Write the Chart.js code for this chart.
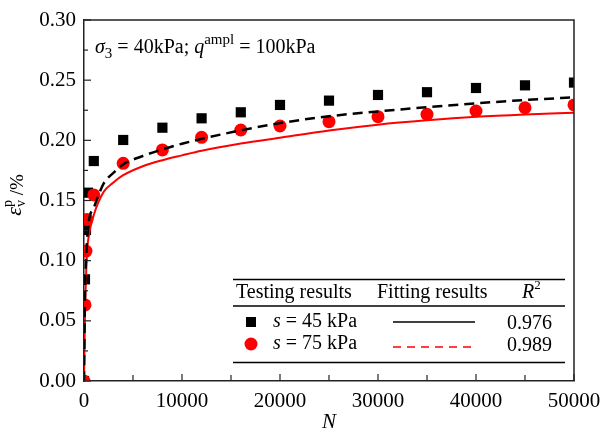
<!DOCTYPE html>
<html>
<head>
<meta charset="utf-8">
<script src="https://cdn.jsdelivr.net/npm/chart.js@4/dist/chart.umd.min.js"></script>
<style>
  html, body { margin: 0; padding: 0; background: #fff; }
  #wrap { width: 601px; height: 436px; }
</style>
</head>
<body>
<div id="wrap"><canvas id="strainChart" width="601" height="436"></canvas></div>
<script>
// Data hasil uji
const nBlack   = [0, 100, 200, 400, 1000, 4000, 8000, 12000, 16000, 20000, 25000, 30000, 35000, 40000, 45000, 50000];
const epsBlack = [0, 0.0845, 0.1255, 0.1565, 0.1828, 0.2003, 0.2105, 0.2183, 0.2233, 0.2294, 0.233, 0.2377, 0.240, 0.2435, 0.2457, 0.248];

const nRed   = [0, 100, 200, 300, 1000, 4000, 8000, 12000, 16000, 20000, 25000, 30000, 35000, 40000, 45000, 50000];
const epsRed = [0, 0.0632, 0.108, 0.1343, 0.1546, 0.1809, 0.192, 0.2025, 0.2086, 0.2119, 0.2155, 0.2197, 0.2216, 0.2244, 0.2271, 0.2294];

// Kurva fitting
const nFit     = [0, 100, 300, 500, 1000, 2000, 3000, 4000, 6000, 8000, 10000, 12000, 16000, 20000, 25000, 30000, 35000, 40000, 45000, 50000];
const fitBlack = [0, 0.07, 0.115, 0.133, 0.144, 0.164, 0.173, 0.180, 0.187, 0.1925, 0.1972, 0.2012, 0.2083, 0.2143, 0.2200, 0.2240, 0.2275, 0.2307, 0.2335, 0.2357];
const fitRed   = [0, 0.055, 0.105, 0.121, 0.138, 0.157, 0.165, 0.171, 0.1785, 0.1835, 0.1875, 0.1913, 0.1973, 0.2022, 0.2082, 0.2130, 0.2166, 0.2195, 0.2215, 0.223];

// Sumbu
const xTicks = [0, 10000, 20000, 30000, 40000, 50000];
const yTicks = [0, 0.05, 0.10, 0.15, 0.20, 0.25, 0.30];

const legendLabels = ['s = 45 kPa', 's = 75 kPa'];
const r2Values = ['0.976', '0.989'];

const SERIF = '"Liberation Serif", "DejaVu Serif", serif';

function toPoints(xs, ys) {
    return xs.map((x, i) => ({ x: x, y: ys[i] }));
}

// gambar teks bersambung: potongan [teks, gaya, ukuran, offset y]
function drawRich(ctx, parts, x, y) {
    let cx = x;
    parts.forEach(p => {
        ctx.font = (p[1] || '') + ' ' + p[2] + 'px ' + SERIF;
        ctx.fillText(p[0], cx, y + (p[3] || 0));
        cx += ctx.measureText(p[0]).width;
    });
    return cx;
}

function richWidth(ctx, parts) {
    let w = 0;
    parts.forEach(p => {
        ctx.font = (p[1] || '') + ' ' + p[2] + 'px ' + SERIF;
        w += ctx.measureText(p[0]).width;
    });
    return w;
}

// Plugin: tick ke dalam, bingkai, anotasi, judul sumbu, tabel legenda
const decorPlugin = {
    id: 'decor',
    afterDraw(chart) {
        const ctx = chart.ctx;
        const a = chart.chartArea;
        const xs = chart.scales.x;
        const ys = chart.scales.y;
        ctx.save();

        // bingkai atas & kanan
        ctx.strokeStyle = '#222';
        ctx.lineWidth = 1.5;
        ctx.beginPath();
        ctx.moveTo(a.left, a.top);
        ctx.lineTo(a.right, a.top);
        ctx.lineTo(a.right, a.bottom);
        ctx.stroke();

        // tick sumbu x (major + minor), ke dalam
        ctx.lineWidth = 1.2;
        for (let v = 0; v <= 50000; v += 5000) {
            const px = xs.getPixelForValue(v);
            const len = (v % 10000 === 0) ? 7 : 6;
            ctx.beginPath();
            ctx.moveTo(px, a.bottom);
            ctx.lineTo(px, a.bottom - len);
            ctx.stroke();
        }
        // tick sumbu y
        for (let i = 0; i <= 12; i++) {
            const v = i * 0.025;
            const py = ys.getPixelForValue(v);
            const len = (i % 2 === 0) ? 7 : 4;
            ctx.beginPath();
            ctx.moveTo(a.left, py);
            ctx.lineTo(a.left + len, py);
            ctx.stroke();
        }

        ctx.fillStyle = '#000';
        ctx.textBaseline = 'alphabetic';
        ctx.textAlign = 'left';

        // anotasi kondisi uji
        drawRich(ctx, [
            ['σ', 'italic', 20], ['3', '', 15, 5], [' = 40kPa; ', '', 20],
            ['q', 'italic', 20], ['ampl', '', 15, -9], [' = 100kPa', '', 20]
        ], 95, 53);

        // judul sumbu x
        ctx.font = 'italic 21px ' + SERIF;
        ctx.textAlign = 'center';
        ctx.fillText('N', (a.left + a.right) / 2, 428);
        ctx.textAlign = 'left';

        // judul sumbu y (diputar)
        ctx.save();
        ctx.translate(21, 195);
        ctx.rotate(-Math.PI / 2);
        const eps = ['ε', 'italic', 22];
        const sub = ['v', '', 14, 4];
        const sup = ['p', '', 14, -9];
        const rest = [' /%', '', 19, 2];
        const wEps = richWidth(ctx, [eps]);
        const wV = richWidth(ctx, [sub]);
        const wRest = richWidth(ctx, [rest]);
        const sx = -(wEps + wV + wRest) / 2;
        drawRich(ctx, [eps], sx, 0);
        drawRich(ctx, [sub], sx + wEps, 0);
        drawRich(ctx, [sup], sx + wEps, 0);
        drawRich(ctx, [rest], sx + wEps + wV, 0);
        ctx.restore();

        // tabel legenda
        const tl = 233, tr = 565;
        ctx.strokeStyle = '#000';
        ctx.lineWidth = 1.6;
        [279.5, 306, 362.5].forEach(yy => {
            ctx.beginPath();
            ctx.moveTo(tl, yy);
            ctx.lineTo(tr, yy);
            ctx.stroke();
        });

        ctx.textBaseline = 'middle';
        drawRich(ctx, [['Testing results', '', 20]], 236, 293);
        drawRich(ctx, [['Fitting results', '', 20]], 377, 293);
        drawRich(ctx, [['R', 'italic', 20], ['2', '', 13, -7]], 522, 293);

        const rowY = [322, 344];
        legendLabels.forEach((lbl, i) => {
            const yy = rowY[i];
            // penanda
            ctx.fillStyle = i === 0 ? '#000' : '#ff0000';
            if (i === 0) {
                ctx.fillRect(246, yy - 5, 10, 10);
            } else {
                ctx.beginPath();
                ctx.arc(251, yy, 6.5, 0, Math.PI * 2);
                ctx.fill();
            }
            ctx.fillStyle = '#000';
            drawRich(ctx, [['s', 'italic', 20], [lbl.slice(1), '', 20]], 273, yy);
            // garis fitting
            ctx.strokeStyle = i === 0 ? '#000' : '#ff0000';
            ctx.lineWidth = 1.3;
            ctx.setLineDash(i === 0 ? [] : [8, 6]);
            ctx.beginPath();
            ctx.moveTo(393, i === 0 ? yy : yy + 3);
            ctx.lineTo(475, i === 0 ? yy : yy + 3);
            ctx.stroke();
            ctx.setLineDash([]);
            ctx.fillStyle = '#000';
            drawRich(ctx, [[r2Values[i], '', 20]], 507, yy + 2);
        });

        ctx.restore();
    }
};

const ctx = document.getElementById('strainChart');
new Chart(ctx, {
    type: 'scatter',
    data: {
        datasets: [
            {
                label: 's = 45 kPa',
                data: toPoints(nBlack, epsBlack),
                pointStyle: 'rect',
                pointRadius: 7.2,
                backgroundColor: '#000',
                borderColor: '#000',
                borderWidth: 0,
                order: 3
            },
            {
                label: 's = 75 kPa',
                data: toPoints(nRed, epsRed),
                pointStyle: 'circle',
                pointRadius: 6.5,
                backgroundColor: '#ff0000',
                borderColor: '#ff0000',
                borderWidth: 0,
                order: 2
            },
            {
                type: 'line',
                label: 'fit 45',
                data: toPoints(nFit, fitBlack),
                borderColor: '#000',
                borderWidth: 2.5,
                borderDash: [10, 6],
                pointRadius: 0,
                cubicInterpolationMode: 'monotone',
                fill: false,
                order: 1
            },
            {
                type: 'line',
                label: 'fit 75',
                data: toPoints(nFit, fitRed),
                borderColor: '#ff0000',
                borderWidth: 2,
                pointRadius: 0,
                cubicInterpolationMode: 'monotone',
                fill: false,
                order: 1
            }
        ]
    },
    options: {
        responsive: false,
        animation: false,
        layout: { padding: { left: 0, top: 20, right: 27, bottom: 0 } },
        scales: {
            x: {
                type: 'linear',
                min: 0,
                max: 50000,
                afterFit(scale) {
                    scale.height = 55;
                    scale.paddingLeft = 0;
                    scale.paddingRight = 0;
                },
                afterBuildTicks(scale) { scale.ticks = xTicks.map(v => ({ value: v })); },
                grid: { display: false, drawTicks: false },
                border: { display: true, color: '#222', width: 1.5 },
                ticks: {
                    padding: 8,
                    color: '#000',
                    font: { family: SERIF, size: 21 },
                    callback: v => String(v)
                }
            },
            y: {
                type: 'linear',
                min: 0,
                max: 0.30,
                afterFit(scale) {
                    scale.width = 84;
                    scale.paddingTop = 0;
                    scale.paddingBottom = 0;
                },
                afterBuildTicks(scale) { scale.ticks = yTicks.map(v => ({ value: v })); },
                grid: { display: false, drawTicks: false },
                border: { display: true, color: '#222', width: 1.5 },
                ticks: {
                    padding: 8,
                    color: '#000',
                    font: { family: SERIF, size: 21 },
                    callback: v => v.toFixed(2)
                }
            }
        },
        plugins: {
            legend: { display: false },
            tooltip: { enabled: false }
        }
    },
    plugins: [decorPlugin]
});
</script>
</body>
</html>
